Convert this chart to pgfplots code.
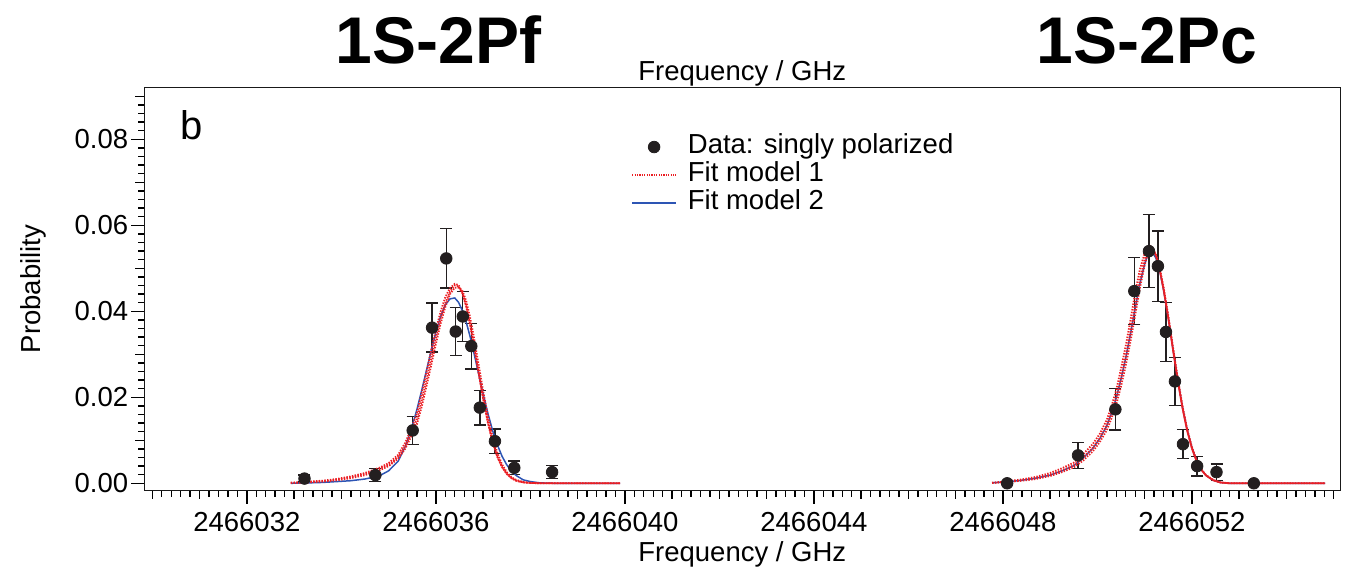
\documentclass[border=0pt]{standalone}
\usepackage{fontspec}
\setmainfont{Liberation Sans}
\usepackage{pgfplots}
\usepackage{pgfplotstable}
\pgfplotsset{compat=1.18}
\definecolor{fitred}{RGB}{235,30,35}
\definecolor{fitblue}{RGB}{45,85,180}
\definecolor{dotc}{RGB}{35,31,32}

% frequency given as (f - 2466000) GHz
\pgfplotstableread{
x y e
33.22 0.0011 0.0008
34.72 0.0019 0.0015
35.51 0.0123 0.0033
35.92 0.0362 0.0057
36.22 0.0523 0.0069
36.42 0.0353 0.0056
36.57 0.0388 0.0058
36.75 0.0319 0.0053
36.93 0.0176 0.0040
37.25 0.0098 0.0028
37.66 0.0036 0.0016
38.46 0.0026 0.0015
48.09 0.0000 0.0002
49.59 0.0065 0.0030
50.38 0.0172 0.0048
50.78 0.0447 0.0078
51.09 0.0540 0.0085
51.28 0.0505 0.0082
51.45 0.0352 0.0069
51.64 0.0237 0.0056
51.81 0.0091 0.0034
52.11 0.0040 0.0023
52.52 0.0026 0.0019
53.31 0.0000 0.0002
}\datatab

\pgfplotstableread{
x r1 r2 r3 b
32.93 0.0001 0.0001 0.0001 0.0000
33.30 0.0003 0.0004 0.0002 0.0001
33.60 0.0005 0.0006 0.0004 0.0002
33.90 0.0009 0.0010 0.0007 0.0004
34.20 0.0014 0.0016 0.0012 0.0006
34.50 0.0022 0.0024 0.0019 0.0010
34.80 0.0033 0.0036 0.0030 0.0017
35.00 0.0043 0.0047 0.0040 0.0029
35.20 0.0061 0.0066 0.0057 0.0051
35.35 0.0086 0.0094 0.0080 0.0085
35.50 0.0122 0.0132 0.0114 0.0133
35.60 0.0149 0.0163 0.0138 0.0172
35.70 0.0192 0.0210 0.0178 0.0216
35.80 0.0239 0.0258 0.0225 0.0262
35.90 0.0289 0.0309 0.0274 0.0308
36.00 0.0338 0.0357 0.0324 0.0351
36.10 0.0383 0.0399 0.0371 0.0388
36.20 0.0420 0.0433 0.0410 0.0415
36.30 0.0446 0.0454 0.0440 0.0429
36.40 0.0460 0.0464 0.0455 0.0431
36.48 0.0458 0.0461 0.0455 0.0421
36.56 0.0442 0.0444 0.0448 0.0402
36.64 0.0413 0.0413 0.0425 0.0376
36.72 0.0372 0.0372 0.0388 0.0343
36.80 0.0324 0.0324 0.0343 0.0306
36.90 0.0260 0.0260 0.0279 0.0257
37.00 0.0197 0.0197 0.0215 0.0208
37.10 0.0142 0.0142 0.0157 0.0163
37.20 0.0096 0.0096 0.0108 0.0123
37.30 0.0062 0.0062 0.0071 0.0090
37.40 0.0038 0.0038 0.0044 0.0063
37.50 0.0022 0.0022 0.0026 0.0043
37.60 0.0012 0.0012 0.0014 0.0028
37.70 0.0006 0.0006 0.0008 0.0018
37.85 0.0002 0.0002 0.0003 0.0008
38.00 0.0001 0.0001 0.0001 0.0004
38.20 0.0000 0.0000 0.0000 0.0001
38.50 0.0000 0.0000 0.0000 0.0000
39.90 0.0000 0.0000 0.0000 0.0000
}\peakf

\pgfplotstableread{
x r1 r2 r3 b
47.77 0.0001 0.0001 0.0001 0.0001
48.10 0.0004 0.0005 0.0003 0.0004
48.40 0.0007 0.0009 0.0006 0.0007
48.70 0.0012 0.0015 0.0010 0.0012
49.00 0.0020 0.0024 0.0017 0.0019
49.25 0.0030 0.0035 0.0026 0.0029
49.50 0.0042 0.0048 0.0037 0.0041
49.70 0.0060 0.0068 0.0053 0.0059
49.90 0.0082 0.0091 0.0074 0.0081
50.05 0.0105 0.0115 0.0096 0.0104
50.20 0.0135 0.0148 0.0124 0.0134
50.30 0.0165 0.0180 0.0152 0.0164
50.40 0.0200 0.0218 0.0184 0.0199
50.50 0.0245 0.0267 0.0226 0.0243
50.60 0.0295 0.0320 0.0274 0.0292
50.70 0.0352 0.0380 0.0330 0.0348
50.80 0.0415 0.0444 0.0392 0.0408
50.90 0.0475 0.0498 0.0455 0.0465
51.00 0.0521 0.0535 0.0508 0.0510
51.06 0.0540 0.0549 0.0531 0.0529
51.12 0.0548 0.0552 0.0543 0.0537
51.18 0.0543 0.0545 0.0542 0.0535
51.24 0.0529 0.0530 0.0531 0.0523
51.32 0.0496 0.0496 0.0500 0.0493
51.40 0.0451 0.0451 0.0456 0.0449
51.50 0.0384 0.0384 0.0390 0.0384
51.60 0.0310 0.0310 0.0316 0.0311
51.70 0.0239 0.0239 0.0245 0.0241
51.80 0.0175 0.0175 0.0180 0.0177
51.90 0.0122 0.0122 0.0126 0.0124
52.00 0.0081 0.0081 0.0084 0.0083
52.10 0.0051 0.0051 0.0053 0.0052
52.20 0.0031 0.0031 0.0032 0.0032
52.30 0.0018 0.0018 0.0019 0.0018
52.45 0.0007 0.0007 0.0008 0.0007
52.60 0.0002 0.0002 0.0002 0.0002
52.80 0.0000 0.0000 0.0000 0.0000
54.82 0.0000 0.0000 0.0000 0.0000
}\peakc

\begin{document}
\begin{tikzpicture}
\begin{axis}[
  name=ax,
  scale only axis, width=598pt, height=201.7pt,
  xmin=29.83, xmax=55.14, ymin=-0.00172, ymax=0.0921,
  clip=false,
  axis line style={line width=0.7pt, black!90},
  xtick={32,36,40,44,48,52},
  xticklabels={2466032,2466036,2466040,2466044,2466048,2466052},
  minor xtick={30,30.2,...,55},
  extra x ticks={30,31,...,55},
  extra x tick labels={},
  extra x tick style={major tick length=4pt},
  ytick={0,0.02,0.04,0.06,0.08},
  minor ytick={0,0.002,...,0.0901},
  extra y ticks={0.01,0.03,0.05,0.07,0.09},
  extra y tick labels={},
  extra y tick style={major tick length=4.6pt},
  scaled y ticks=false,
  yticklabel style={xshift=2pt, /pgf/number format/.cd, fixed, fixed zerofill, precision=2},
  /pgf/number format/assume math mode=true,
  tick align=outside,
  xtick pos=bottom, ytick pos=left,
  major tick length=6.5pt, minor tick length=3pt,
  tick style={line width=0.7pt, black},
  tick label style={font=\fontsize{13.75}{16}\selectfont},
  xticklabel style={yshift=-1pt},
  xlabel={Frequency / GHz},
  xlabel style={at={(axis description cs:0.5,-0.1743)}, anchor=base, inner sep=0pt, font=\fontsize{13.75}{16}\selectfont},
  ylabel={Probability},
  ylabel style={at={(axis description cs:-0.0931,0.5)}, anchor=center, inner sep=0pt, font=\fontsize{13.75}{16}\selectfont},
  legend style={at={(0.4072,0.8866)}, anchor=north west, draw=none, fill=none,
    inner sep=0pt, outer sep=0pt, row sep=0pt, column sep=5.5pt,
    nodes={inner sep=0pt, text height=10pt, text depth=4pt},
    font=\fontsize{13.75}{16}\selectfont},
  legend cell align=left,
]
\addlegendimage{legend image code/.code={\fill[dotc] (11pt,0pt) circle (2.9pt); \path[draw=none,fill=none] (0pt,-0.1pt) rectangle (22pt,0.1pt);}}
\addlegendentry{Data: singly polarized}
\addlegendimage{legend image code/.code={\draw[fitred, line width=0.8pt, dash pattern=on 0.6pt off 0.6pt] (0pt,0pt) -- (22pt,0pt);}}
\addlegendentry{Fit model 1}
\addlegendimage{legend image code/.code={\draw[fitblue, line width=0.75pt] (0pt,0pt) -- (22pt,0pt);}}
\addlegendentry{Fit model 2}

\addplot[forget plot, only marks, mark=*, mark size=2.9pt, dotc,
  error bars/.cd, y dir=both, y explicit,
  error bar style={line width=0.7pt, dotc},
  error mark options={rotate=90, mark size=3pt, line width=0.7pt, dotc}]
  table[x=x, y=y, y error=e] {\datatab};

\addplot[forget plot, fitblue, line width=0.75pt] table[x=x, y=b] {\peakf};
\addplot[forget plot, fitblue, line width=0.75pt] table[x=x, y=b] {\peakc};
\foreach \col in {r2,r3,r1} {
  \addplot[forget plot, fitred, line width=0.9pt, dash pattern=on 0.7pt off 0.7pt] table[x=x, y=\col] {\peakf};
  \addplot[forget plot, fitred, line width=0.9pt, dash pattern=on 0.7pt off 0.7pt] table[x=x, y=\col] {\peakc};
}

\node[anchor=base, inner sep=0pt, font=\fontsize{33}{38}\selectfont\bfseries] at (rel axis cs:0.246,1.0602) {1S-2Pf};
\node[anchor=base, inner sep=0pt, font=\fontsize{33}{38}\selectfont\bfseries] at (rel axis cs:0.8384,1.0602) {1S-2Pc};
\node[anchor=base, inner sep=0pt, font=\fontsize{13.75}{16}\selectfont] at (rel axis cs:0.5,1.0166) {Frequency / GHz};
\node[anchor=base west, inner sep=0pt, font=\fontsize{20}{24}\selectfont] at (rel axis cs:0.0298,0.8694) {b};
\end{axis}
\pgfresetboundingbox
\path ([xshift=-72.15pt,yshift=-40.15pt]ax.south west) rectangle ([xshift=8.85pt,yshift=43.65pt]ax.north east);
\end{tikzpicture}
\end{document}
